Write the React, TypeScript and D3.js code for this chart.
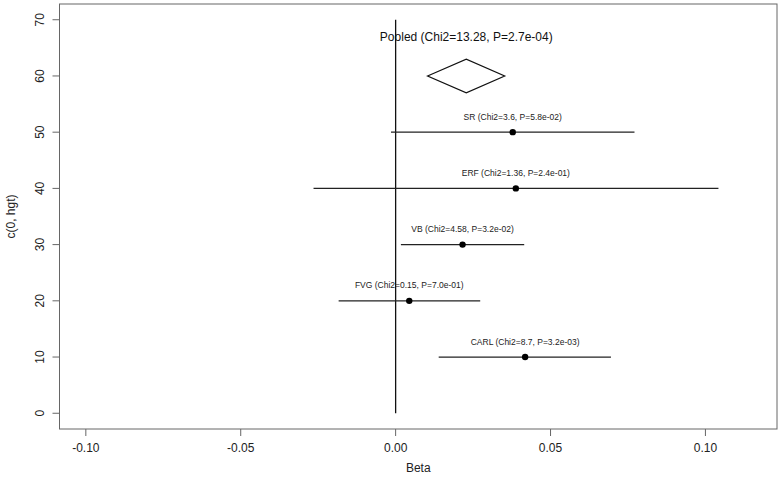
import * as d3 from "d3";

// study estimates (Beta) with confidence limits, plotted at fixed heights
const studies = ["SR", "ERF", "VB", "FVG", "CARL"];
const heights = [50, 40, 30, 20, 10];
const betas = [0.0378, 0.0388, 0.0216, 0.0044, 0.0418];
const lower = [-0.0015, -0.0265, 0.0017, -0.0184, 0.0139];
const upper = [0.0771, 0.1042, 0.0415, 0.0273, 0.0695];
const chi2 = ["3.6", "1.36", "4.58", "0.15", "8.7"];
const pvals = ["5.8e-02", "2.4e-01", "3.2e-02", "7.0e-01", "3.2e-03"];

// pooled estimate drawn as a diamond
const pooledBeta = 0.0228;
const pooledLower = 0.0103;
const pooledUpper = 0.0352;
const pooledHeight = 60;
const pooledHalf = 3;
const pooledLabel = "Pooled (Chi2=13.28, P=2.7e-04)";

const xTicks = [-0.1, -0.05, 0, 0.05, 0.1];
const yTicks = [0, 10, 20, 30, 40, 50, 60, 70];

const W = 782;
const H = 490;
const left = 59.5;
const right = 777;
const top = 4;
const bottom = 429;
const font = "'Liberation Sans', Arial, Helvetica, sans-serif";

const App = () => {
  const x = d3.scaleLinear().domain([-0.1085, 0.1231]).range([left, right]);
  const y = d3.scaleLinear().domain([-2.8, 72.8]).range([bottom, top]);

  const diamond = d3.line()([
    [x(pooledLower), y(pooledHeight)],
    [x(pooledBeta), y(pooledHeight + pooledHalf)],
    [x(pooledUpper), y(pooledHeight)],
    [x(pooledBeta), y(pooledHeight - pooledHalf)],
  ]) + "Z";

  return (
    <svg
      width={W}
      height={H}
      style={{ position: "absolute", left: 0, top: 0, background: "#fff" }}
      fontFamily={font}
    >
      {/* plot box */}
      <rect x={left} y={top} width={right - left} height={bottom - top} fill="none" stroke="#666" strokeWidth={1} />

      {/* x axis */}
      {xTicks.map((t) => (
        <g key={"x" + t}>
          <line x1={x(t)} x2={x(t)} y1={bottom} y2={bottom + 7} stroke="#666" />
          <text x={x(t)} y={bottom + 23} textAnchor="middle" fontSize={12} fill="#222">
            {t.toFixed(2)}
          </text>
        </g>
      ))}
      <text x={(left + right) / 2} y={472} textAnchor="middle" fontSize={12} fill="#222">
        Beta
      </text>

      {/* y axis */}
      {yTicks.map((t) => (
        <g key={"y" + t}>
          <line x1={left - 7} x2={left} y1={y(t)} y2={y(t)} stroke="#666" />
          <text
            transform={`translate(${left - 16},${y(t)}) rotate(-90)`}
            textAnchor="middle"
            fontSize={12}
            fill="#222"
          >
            {t}
          </text>
        </g>
      ))}
      <text
        transform={`translate(${15},${(top + bottom) / 2}) rotate(-90)`}
        textAnchor="middle"
        fontSize={12}
        fill="#222"
      >
        c(0, hgt)
      </text>

      {/* zero line */}
      <line x1={x(0)} x2={x(0)} y1={y(0)} y2={y(70)} stroke="#111" strokeWidth={1.3} />

      {/* studies */}
      {studies.map((s, i) => (
        <g key={s}>
          <line x1={x(lower[i])} x2={x(upper[i])} y1={y(heights[i])} y2={y(heights[i])} stroke="#222" strokeWidth={1.3} />
          <circle cx={x(betas[i])} cy={y(heights[i])} r={3.2} fill="#000" />
          <text x={x(betas[i])} y={y(heights[i]) - 12.5} textAnchor="middle" fontSize={8.5} fill="#222">
            {`${s} (Chi2=${chi2[i]}, P=${pvals[i]})`}
          </text>
        </g>
      ))}

      {/* pooled */}
      <path d={diamond} fill="none" stroke="#111" strokeWidth={1.2} />
      <text x={x(pooledBeta)} y={y(67) + 4.3} textAnchor="middle" fontSize={12} fill="#111">
        {pooledLabel}
      </text>
    </svg>
  );
};

export default App;
